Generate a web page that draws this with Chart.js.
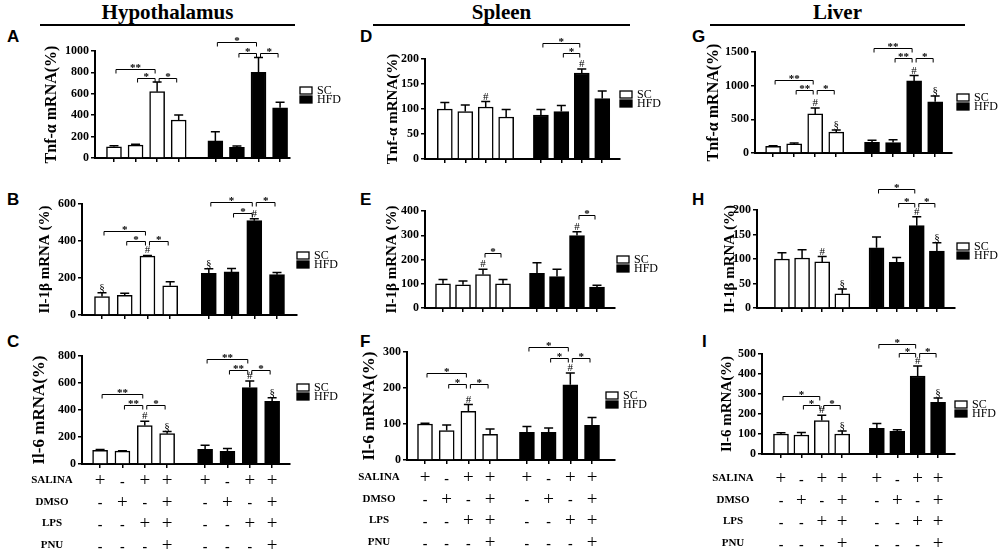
<!DOCTYPE html>
<html>
<head>
<meta charset="utf-8">
<script src="https://cdn.jsdelivr.net/npm/chart.js@4.4.1/dist/chart.umd.min.js"></script>
<style>
  body { margin: 0; background: #fff; }
  #wrap { position: relative; width: 1005px; height: 556px; overflow: hidden; background: #fff; }
  canvas { position: absolute; left: 0; top: 0; }
  .hd { position: absolute; top: 1px; font: bold 21px "Liberation Serif", serif; line-height: 22px; text-align: center; color: #000; }
  .rule { position: absolute; top: 24px; height: 1.5px; background: #000; }
  .lt { position: absolute; font: bold 17px "Liberation Sans", Arial, sans-serif; line-height: 17px; color: #000; }
</style>
</head>
<body>
<div id="wrap">
  <div class="hd" style="left:40px;width:255px">Hypothalamus</div>
  <div class="rule" style="left:40px;width:255px"></div>
  <div class="hd" style="left:373px;width:257px">Spleen</div>
  <div class="rule" style="left:373px;width:257px"></div>
  <div class="hd" style="left:710px;width:255px">Liver</div>
  <div class="rule" style="left:710px;width:255px"></div>

  <div class="lt" style="left:7px;top:28px">A</div>
  <div class="lt" style="left:7px;top:191px">B</div>
  <div class="lt" style="left:7px;top:333px">C</div>
  <div class="lt" style="left:360px;top:28px">D</div>
  <div class="lt" style="left:360px;top:191px">E</div>
  <div class="lt" style="left:360px;top:333px">F</div>
  <div class="lt" style="left:692px;top:28px">G</div>
  <div class="lt" style="left:692px;top:191px">H</div>
  <div class="lt" style="left:702px;top:333px">I</div>
</div>
<script>
// groups and treatment table
const groups = ['SC', 'HFD'];
const treatments = ['SALINA', 'DMSO', 'LPS', 'PNU'];
const salina = ['+', '-', '+', '+', '+', '-', '+', '+'];
const dmso   = ['-', '+', '-', '+', '-', '+', '-', '+'];
const lps    = ['-', '-', '+', '+', '-', '-', '+', '+'];
const pnu    = ['-', '-', '-', '+', '-', '-', '-', '+'];

// Hypothalamus
const hypTnfSC = [105, 120, 620, 355];   const hypTnfSCErr = [10, 8, 90, 48];
const hypTnfHFD = [160, 100, 800, 470];  const hypTnfHFDErr = [85, 12, 140, 50];
const hypIl1SC = [100, 107, 318, 158];   const hypIl1SCErr = [20, 10, 4, 22];
const hypIl1HFD = [225, 233, 510, 218];  const hypIl1HFDErr = [25, 18, 10, 12];
const hypIl6SC = [102, 95, 285, 225];    const hypIl6SCErr = [6, 3, 32, 15];
const hypIl6HFD = [108, 93, 567, 465];   const hypIl6HFDErr = [30, 22, 48, 25];

// Spleen
const splTnfSC = [100, 95, 104, 84];     const splTnfSCErr = [13, 13, 11, 15];
const splTnfHFD = [88, 95, 172, 121];    const splTnfHFDErr = [11, 12, 8, 15];
const splIl1SC = [100, 96, 138, 100];    const splIl1SCErr = [18, 15, 22, 18];
const splIl1HFD = [143, 130, 299, 86];   const splIl1HFDErr = [44, 30, 15, 8];
const splIl6SC = [100, 82, 135, 71];     const splIl6SCErr = [2, 15, 19, 15];
const splIl6HFD = [77, 77, 209, 96];     const splIl6HFDErr = [16, 12, 33, 22];

// Liver
const livTnfSC = [100, 135, 580, 310];   const livTnfSCErr = [8, 12, 88, 30];
const livTnfHFD = [160, 155, 1070, 760]; const livTnfHFDErr = [30, 40, 80, 85];
const livIl1SC = [100, 102, 94, 29];     const livIl1SCErr = [13, 17, 11, 10];
const livIl1HFD = [123, 93, 168, 116];   const livIl1HFDErr = [22, 10, 18, 17];
const livIl6SC = [100, 95, 167, 100];    const livIl6SCErr = [6, 13, 27, 15];
const livIl6HFD = [128, 113, 390, 258];  const livIl6HFDErr = [24, 8, 50, 22];

// significance brackets: [from bar, to bar, level, label]; marks: [bar, symbol]
const sigA = [[0, 2, 832, '**'], [1, 2, 748, '*'], [2, 3, 748, '*'], [4, 6, 1084, '*'], [5, 6, 981, '*'], [6, 7, 981, '*']];
const sigB = [[0, 2, 456, '*'], [1, 2, 402, '*'], [2, 3, 402, '*'], [4, 6, 613, '*'], [5, 6, 553, '*'], [6, 7, 613, '*']];
const sigC = [[0, 2, 518, '**'], [1, 2, 437, '**'], [2, 3, 437, '*'], [4, 6, 780, '**'], [5, 6, 699, '**'], [6, 7, 699, '*']];
const sigD = [[4, 6, 232, '*'], [5, 6, 212, '*']];
const sigE = [[2, 3, 228, '*'], [6, 7, 382, '*']];
const sigF = [[0, 2, 241, '*'], [1, 2, 212, '*'], [2, 3, 212, '*'], [4, 6, 313, '*'], [5, 6, 283, '*'], [6, 7, 283, '*']];
const sigG = [[0, 2, 1079, '**'], [1, 2, 940, '**'], [2, 3, 940, '*'], [4, 6, 1564, '**'], [5, 6, 1416, '**'], [6, 7, 1416, '*']];
const sigH = [[4, 6, 242, '*'], [5, 6, 215, '*'], [6, 7, 215, '*']];
const sigI = [[0, 2, 292, '*'], [1, 2, 246, '*'], [2, 3, 246, '*'], [4, 6, 550, '*'], [5, 6, 503, '*'], [6, 7, 503, '*']];
const marksA = [];
const marksB = [[0, '§'], [2, '#'], [4, '§'], [6, '#']];
const marksC = [[2, '#'], [3, '§'], [6, '#'], [7, '§']];
const marksD = [[2, '#'], [6, '#']];
const marksE = [[2, '#'], [6, '#']];
const marksF = [[2, '#'], [6, '#']];
const marksG = [[2, '#'], [3, '§'], [6, '#'], [7, '§']];
const marksH = [[2, '#'], [3, '§'], [6, '#'], [7, '§']];
const marksI = [[2, '#'], [3, '§'], [6, '#'], [7, '§']];

const SERIF = '"Liberation Serif", "Times New Roman", serif';
const groupGap = 0.7;
function barPos(i) { return i + 1 + (i >= 4 ? groupGap : 0); }

const panels = [
  { sc: hypTnfSC, scErr: hypTnfSCErr, hfd: hypTnfHFD, hfdErr: hypTnfHFDErr, sig: sigA, marks: marksA,
    title: 'Tnf-α mRNA(%)', yMax: 1000, step: 200,
    L: 95, R: 290, T: 51, B: 158, xMin: 0.12, xMax: 9.16, titleX: 52, titleSize: 16, legend: [300, 87] },
  { sc: hypIl1SC, scErr: hypIl1SCErr, hfd: hypIl1HFD, hfdErr: hypIl1HFDErr, sig: sigB, marks: marksB,
    title: 'Il-1β mRNA (%)', yMax: 600, step: 200,
    L: 82, R: 297, T: 204, B: 315, xMin: 0.12, xMax: 9.58, titleX: 45, titleSize: 15, legend: [297, 252] },
  { sc: hypIl6SC, scErr: hypIl6SCErr, hfd: hypIl6HFD, hfdErr: hypIl6HFDErr, sig: sigC, marks: marksC,
    title: 'Il-6 mRNA(%)', yMax: 800, step: 200,
    L: 82, R: 290, T: 356, B: 464, xMin: 0.19, xMax: 9.5, titleX: 40, titleSize: 17, legend: [297, 384],
    table: { x: 52, y: 480, gap: 21.7 } },
  { sc: splTnfSC, scErr: splTnfSCErr, hfd: splTnfHFD, hfdErr: splTnfHFDErr, sig: sigD, marks: marksD,
    title: 'Tnf-α mRNA(%)', yMax: 200, step: 50,
    L: 425, R: 620, T: 59, B: 159, xMin: 0.03, xMax: 9.57, titleX: 393, titleSize: 15, legend: [620, 91] },
  { sc: splIl1SC, scErr: splIl1SCErr, hfd: splIl1HFD, hfdErr: splIl1HFDErr, sig: sigE, marks: marksE,
    title: 'Il-1β mRNA (%)', yMax: 400, step: 100,
    L: 425, R: 615, T: 211, B: 308, xMin: 0.1, xMax: 9.6, titleX: 392, titleSize: 15, legend: [617, 256] },
  { sc: splIl6SC, scErr: splIl6SCErr, hfd: splIl6HFD, hfdErr: splIl6HFDErr, sig: sigF, marks: marksF,
    title: 'Il-6 mRNA(%)', yMax: 300, step: 100,
    L: 407, R: 615, T: 352, B: 460, xMin: 0.17, xMax: 9.76, titleX: 370, titleSize: 17, legend: [606, 392],
    table: { x: 379, y: 477, gap: 21.7 } },
  { sc: livTnfSC, scErr: livTnfSCErr, hfd: livTnfHFD, hfdErr: livTnfHFDErr, sig: sigG, marks: marksG,
    title: 'Tnf-α mRNA(%)', yMax: 1500, step: 500,
    L: 755, R: 952, T: 52, B: 153, xMin: 0.14, xMax: 9.5, titleX: 714, titleSize: 16, legend: [957, 94] },
  { sc: livIl1SC, scErr: livIl1SCErr, hfd: livIl1HFD, hfdErr: livIl1HFDErr, sig: sigH, marks: marksH,
    title: 'Il-1β mRNA (%)', yMax: 200, step: 50,
    L: 757, R: 955, T: 210, B: 308, xMin: -0.24, xMax: 9.6, titleX: 730, titleSize: 15, legend: [957, 243] },
  { sc: livIl6SC, scErr: livIl6SCErr, hfd: livIl6HFD, hfdErr: livIl6HFDErr, sig: sigI, marks: marksI,
    title: 'Il-6 mRNA(%)', yMax: 500, step: 100,
    L: 762, R: 955, T: 354, B: 454, xMin: 0.07, xMax: 9.53, titleX: 727, titleSize: 15, legend: [955, 401],
    table: { x: 733, y: 478, gap: 21.7 } }
];

// error bars, brackets, symbols, legend, treatment table
function extras(p) {
  return {
    id: 'extras',
    afterDatasetsDraw(chart) {
      const ctx = chart.ctx, xs = chart.scales.x, ys = chart.scales.y;
      const vals = p.sc.concat(p.hfd), errs = p.scErr.concat(p.hfdErr);
      ctx.save();
      ctx.strokeStyle = '#000';
      ctx.fillStyle = '#000';
      ctx.textAlign = 'center';

      vals.forEach(function (v, i) {
        const x = xs.getPixelForValue(barPos(i));
        const y0 = ys.getPixelForValue(v), y1 = ys.getPixelForValue(v + errs[i]);
        ctx.lineWidth = 1.5;
        ctx.beginPath();
        ctx.moveTo(x, y0); ctx.lineTo(x, y1);
        ctx.moveTo(x - 4.5, y1); ctx.lineTo(x + 4.5, y1);
        ctx.stroke();
      });

      ctx.font = '11px ' + SERIF;
      ctx.textBaseline = 'alphabetic';
      p.marks.forEach(function (m) {
        const i = m[0];
        const x = xs.getPixelForValue(barPos(i));
        const y = ys.getPixelForValue(vals[i] + errs[i]);
        ctx.fillText(m[1], x, y - 2);
      });

      p.sig.forEach(function (s) {
        const xa = xs.getPixelForValue(barPos(s[0])) + 2;
        const xb = xs.getPixelForValue(barPos(s[1])) - 2;
        const y = Math.round(ys.getPixelForValue(s[2])) + 0.5;
        ctx.lineWidth = 1;
        ctx.beginPath();
        ctx.moveTo(xa, y + 4); ctx.lineTo(xa, y); ctx.lineTo(xb, y); ctx.lineTo(xb, y + 4);
        ctx.stroke();
        ctx.font = 'bold 11px ' + SERIF;
        ctx.fillText(s[3], (xa + xb) / 2, y + 1.5);
      });

      // legend
      const lx = p.legend[0], ly = p.legend[1];
      ctx.lineWidth = 1.3;
      ctx.fillStyle = '#fff';
      ctx.fillRect(lx, ly, 12, 7);
      ctx.strokeRect(lx, ly, 12, 7);
      ctx.fillStyle = '#000';
      ctx.fillRect(lx, ly + 9, 12, 7);
      ctx.strokeRect(lx, ly + 9, 12, 7);
      ctx.font = '12px ' + SERIF;
      ctx.textAlign = 'left';
      ctx.textBaseline = 'middle';
      ctx.fillText(groups[0], lx + 17, ly + 4);
      ctx.fillText(groups[1], lx + 17, ly + 13);

      if (p.table) {
        const rows = [salina, dmso, lps, pnu];
        rows.forEach(function (r, k) {
          const y = p.table.y + k * p.table.gap;
          ctx.textAlign = 'center';
          ctx.textBaseline = 'middle';
          ctx.font = 'bold 11px ' + SERIF;
          ctx.fillText(treatments[k], p.table.x, y);
          r.forEach(function (sgn, i) {
            const x = xs.getPixelForValue(barPos(i));
            if (sgn === '+') {
              ctx.font = '19px ' + SERIF;
              ctx.fillText('+', x, y + 1);
            } else {
              ctx.font = 'bold 14px ' + SERIF;
              ctx.fillText('-', x, y + 2);
            }
          });
        });
      }
      ctx.restore();
    }
  };
}

const wrap = document.getElementById('wrap');
panels.forEach(function (p) {
  const cv = document.createElement('canvas');
  cv.width = 1005;
  cv.height = 556;
  wrap.appendChild(cv);
  const titleLeft = p.titleX - p.titleSize * 0.6;
  new Chart(cv.getContext('2d'), {
    type: 'bar',
    data: {
      datasets: [
        { label: groups[0], data: p.sc.map(function (v, i) { return { x: barPos(i), y: v }; }),
          backgroundColor: '#fff', borderColor: '#000', borderWidth: 1.5, barThickness: 15, grouped: false },
        { label: groups[1], data: p.hfd.map(function (v, i) { return { x: barPos(i + 4), y: v }; }),
          backgroundColor: '#000', borderColor: '#000', borderWidth: 1.5, barThickness: 15, grouped: false }
      ]
    },
    options: {
      responsive: false,
      animation: false,
      layout: { padding: { left: titleLeft, top: p.T, right: 1005 - p.R, bottom: 556 - p.B - 6 } },
      plugins: { legend: { display: false }, tooltip: { enabled: false } },
      scales: {
        x: {
          type: 'linear', min: p.xMin, max: p.xMax, offset: false,
          afterBuildTicks: function (s) { s.ticks = [0, 1, 2, 3, 4, 5, 6, 7].map(function (i) { return { value: barPos(i) }; }); },
          afterFit: function (s) { s.height = 6; },
          ticks: { callback: function () { return ''; } },
          grid: { offset: false, drawOnChartArea: false, drawTicks: true, tickLength: 4, color: '#000', lineWidth: 1.5 },
          border: { display: true, color: '#000', width: 2 }
        },
        y: {
          min: 0, max: p.yMax,
          afterFit: function (s) { s.width = p.L - titleLeft; },
          ticks: { stepSize: p.step, color: '#000', padding: 2, font: { family: SERIF, size: 12, weight: 'bold' },
            callback: function (v) { return String(v); } },
          grid: { drawOnChartArea: false, drawTicks: true, tickLength: 4, color: '#000', lineWidth: 1.5 },
          border: { display: true, color: '#000', width: 2 },
          title: { display: true, text: p.title, color: '#000', padding: 0,
            font: { family: SERIF, size: p.titleSize, weight: 'bold' } }
        }
      }
    },
    plugins: [extras(p)]
  });
});
</script>
</body>
</html>
